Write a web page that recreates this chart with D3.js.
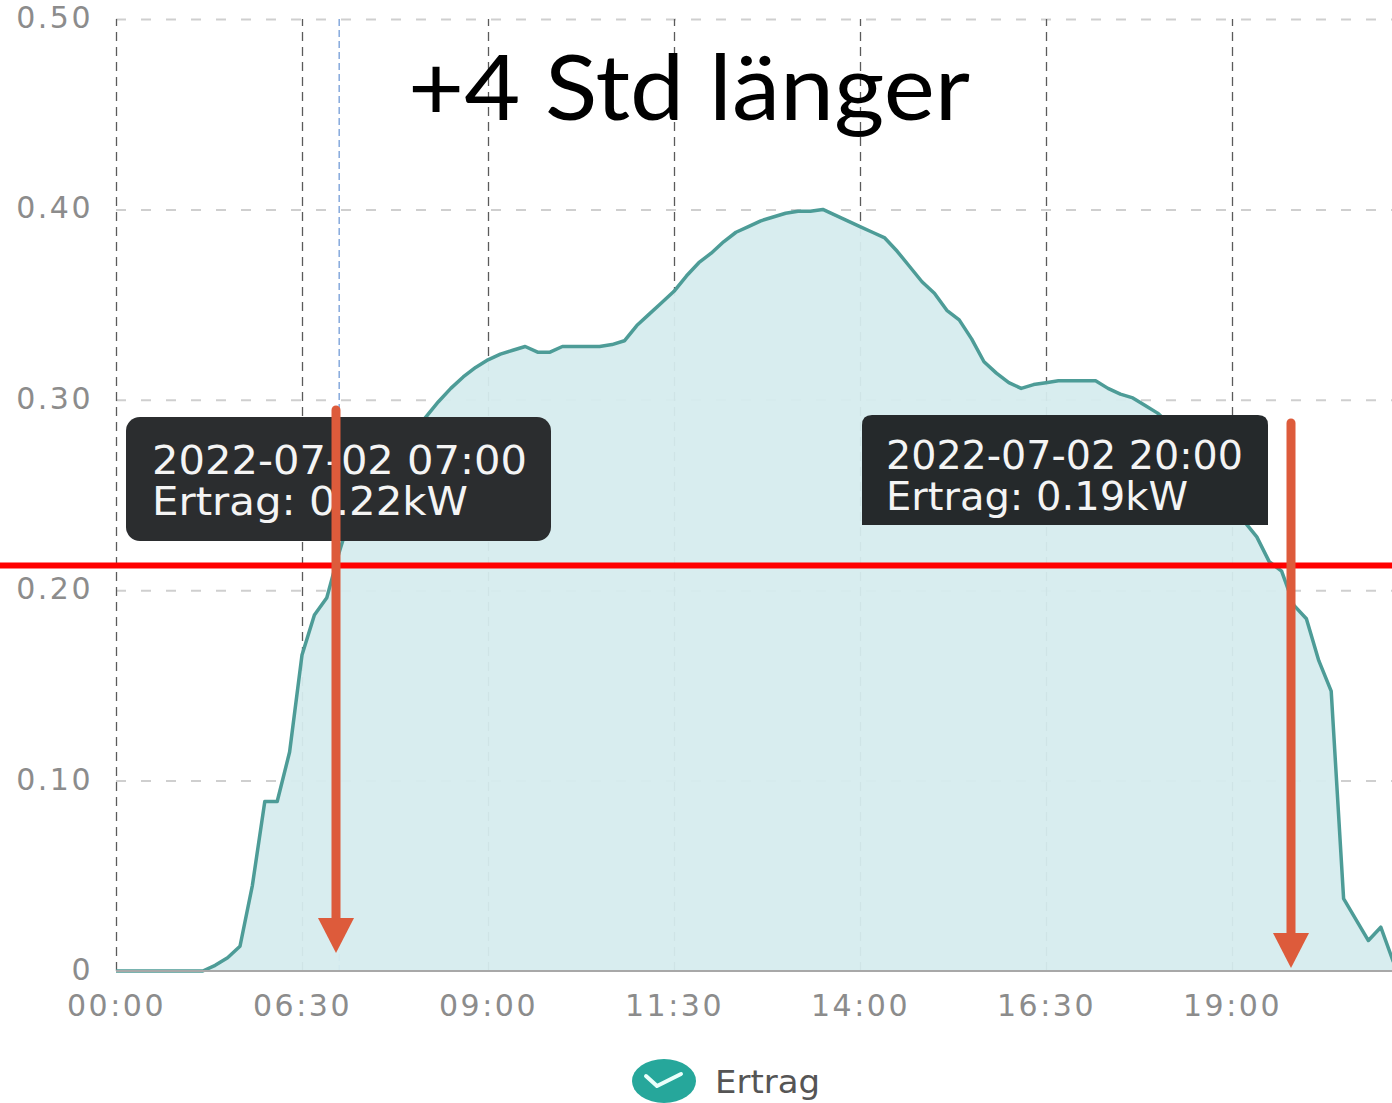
<!DOCTYPE html>
<html>
<head>
<meta charset="utf-8">
<script src="https://cdn.jsdelivr.net/npm/d3@7"></script>
<style>
  html, body { margin: 0; padding: 0; background: #fff; }
  svg { display: block; }
</style>
</head>
<body>
<svg id="chart" width="1392" height="1103"></svg>
<script>
// ---------------- DATA ----------------
// category axis: first point 00:00, then 10‑minute steps from 04:10
const categories = ["00:00"];
for (let m = 4 * 60 + 10; m <= 21 * 60 + 30; m += 10) {
  categories.push(String(Math.floor(m / 60)).padStart(2, "0") + ":" + String(m % 60).padStart(2, "0"));
}
// Ertrag (kW) per category
const ertrag = [
  0, 0, 0, 0, 0, 0, 0, 0, 0.003, 0.007,
  0.013, 0.045, 0.089, 0.089, 0.115, 0.166, 0.187, 0.196, 0.22, 0.241,
  0.249, 0.257, 0.266, 0.274, 0.283, 0.291, 0.299, 0.306, 0.312, 0.317,
  0.321, 0.324, 0.326, 0.328, 0.325, 0.325, 0.328, 0.328, 0.328, 0.328,
  0.329, 0.331, 0.339, 0.345, 0.351, 0.357, 0.365, 0.372, 0.377, 0.383,
  0.388, 0.391, 0.394, 0.396, 0.398, 0.399, 0.399, 0.400, 0.397, 0.394,
  0.391, 0.388, 0.385, 0.378, 0.370, 0.362, 0.356, 0.347, 0.342, 0.332,
  0.320, 0.314, 0.309, 0.306, 0.308, 0.309, 0.310, 0.310, 0.310, 0.310,
  0.306, 0.303, 0.301, 0.297, 0.293, 0.287, 0.280, 0.272, 0.265, 0.256,
  0.247, 0.236, 0.228, 0.215, 0.21, 0.192, 0.185, 0.163, 0.147, 0.038,
  0.027, 0.016, 0.023, 0.005, 0
];
const xTickLabels = ["00:00", "06:30", "09:00", "11:30", "14:00", "16:30", "19:00"];
const yTickValues = [0, 0.1, 0.2, 0.3, 0.4, 0.5];
const tooltipTimes = ["07:00", "20:00"];
const tooltipDates = ["2022-07-02 07:00", "2022-07-02 20:00"];
const tooltipValues = [0.22, 0.19];
const seriesName = "Ertrag";
const titleText = "+4 Std länger";
const thresholdValue = 0.213;

// ---------------- CHART ----------------
const svg = d3.select("#chart");
const x0 = 116, step = 12.4;
const x = d3.scalePoint().domain(categories).range([x0, x0 + step * (categories.length - 1)]);
const y = d3.scaleLinear().domain([0, 0.5]).range([971, 19]);
const plotRight = 1392;

// horizontal grid
const hgrid = d3.axisLeft(y).tickValues(yTickValues.filter(v => v > 0))
  .tickSize(-(plotRight - x0)).tickFormat("");
svg.append("g").attr("transform", `translate(${x0},0)`).call(hgrid)
  .call(g => g.select(".domain").remove())
  .selectAll("line").attr("stroke", "#cfcfcf").attr("stroke-width", 2)
  .attr("stroke-dasharray", "10,15");

// vertical grid
const vgrid = d3.axisBottom(x).tickValues(xTickLabels).tickSize(-(971 - 19)).tickFormat("");
svg.append("g").attr("transform", "translate(0,971)").call(vgrid)
  .call(g => g.select(".domain").remove())
  .selectAll("line").attr("stroke", "#5a5a5a").attr("stroke-width", 1.3)
  .attr("stroke-dasharray", "9,6");

// cursor line (tooltip)
svg.append("line")
  .attr("x1", x(tooltipTimes[0])).attr("x2", x(tooltipTimes[0]))
  .attr("y1", y(0.5)).attr("y2", y(0))
  .attr("stroke", "#86a9dc").attr("stroke-width", 1.5).attr("stroke-dasharray", "7,4");

// area + line
svg.append("clipPath").attr("id", "clip").append("rect")
  .attr("x", x0).attr("y", 0).attr("width", plotRight - x0).attr("height", 975);
const area = d3.area().x((d, i) => x(categories[i])).y0(y(0)).y1(d => y(d));
const line = d3.line().x((d, i) => x(categories[i])).y(d => y(d));
svg.append("path").datum(ertrag).attr("clip-path", "url(#clip)")
  .attr("d", area).attr("fill", "#d6ecee").attr("fill-opacity", 0.95);
svg.append("path").datum(ertrag).attr("clip-path", "url(#clip)")
  .attr("d", line).attr("fill", "none").attr("stroke", "#4d9c97").attr("stroke-width", 3.5)
  .attr("stroke-linejoin", "round");

// axis baseline
svg.append("line").attr("x1", x0).attr("x2", plotRight).attr("y1", y(0)).attr("y2", y(0))
  .attr("stroke", "#a8a8a8").attr("stroke-width", 2);

// y axis labels
const yAxis = d3.axisLeft(y).tickValues(yTickValues).tickSize(0).tickPadding(0)
  .tickFormat(d => d === 0 ? "0" : d3.format(".2f")(d));
svg.append("g").attr("transform", "translate(93,0)").call(yAxis)
  .call(g => g.select(".domain").remove())
  .selectAll("text").attr("font-family", "DejaVu Sans").attr("font-size", 30)
  .attr("fill", "#8c8c8c").attr("letter-spacing", 2.5).attr("dy", "0.28em");

// x axis labels
const xAxis = d3.axisBottom(x).tickValues(xTickLabels).tickSize(0).tickPadding(0);
svg.append("g").attr("transform", "translate(0,995)").call(xAxis)
  .call(g => g.select(".domain").remove())
  .selectAll("text").attr("font-family", "DejaVu Sans").attr("font-size", 30)
  .attr("fill", "#8c8c8c").attr("letter-spacing", 2.5).attr("dy", "0.71em");

// title
svg.append("text").attr("x", 408).attr("y", 120).text(titleText)
  .attr("font-family", "Lato, 'Open Sans', sans-serif").attr("font-size", 92)
  .attr("fill", "#000").attr("textLength", 562).attr("lengthAdjust", "spacingAndGlyphs");

// tooltips
const tips = [
  { x: 126, y: 417, w: 425, h: 124, rx: 14, tx: 152, l1: 474, l2: 515, tw1: 375, tw2: 316 },
  { x: 862, y: 415, w: 406, h: 110, rx: 10, tx: 886, l1: 469, l2: 510, tw1: 357, tw2: 302 }
];
tips.forEach((t, i) => {
  const g = svg.append("g");
  if (i === 0) {
    g.append("rect").attr("x", t.x).attr("y", t.y).attr("width", t.w).attr("height", t.h)
      .attr("rx", t.rx).attr("fill", "#2b2d2f");
  } else {
    const p = d3.path();
    p.moveTo(t.x, t.y + t.rx);
    p.quadraticCurveTo(t.x, t.y, t.x + t.rx, t.y);
    p.lineTo(t.x + t.w - t.rx, t.y);
    p.quadraticCurveTo(t.x + t.w, t.y, t.x + t.w, t.y + t.rx);
    p.lineTo(t.x + t.w, t.y + t.h);
    p.lineTo(t.x, t.y + t.h);
    p.closePath();
    g.append("path").attr("d", p.toString()).attr("fill", "#25292b");
  }
  g.append("text").attr("x", t.tx).attr("y", t.l1).text(tooltipDates[i])
    .attr("font-family", "DejaVu Sans").attr("font-size", 39).attr("fill", "#f4f4f4")
    .attr("textLength", t.tw1).attr("lengthAdjust", "spacingAndGlyphs");
  g.append("text").attr("x", t.tx).attr("y", t.l2)
    .text(seriesName + ": " + tooltipValues[i].toFixed(2) + "kW")
    .attr("font-family", "DejaVu Sans").attr("font-size", 39).attr("fill", "#f4f4f4")
    .attr("textLength", t.tw2).attr("lengthAdjust", "spacingAndGlyphs");
});

// red threshold line
svg.append("line").attr("x1", 0).attr("x2", 1392)
  .attr("y1", y(thresholdValue)).attr("y2", y(thresholdValue))
  .attr("stroke", "#ff0000").attr("stroke-width", 6);

// orange arrows
const arrows = [
  { x: 336, top: 410, tip: 953 },
  { x: 1291, top: 423, tip: 968 }
];
arrows.forEach(a => {
  svg.append("line").attr("x1", a.x).attr("x2", a.x).attr("y1", a.top).attr("y2", a.tip - 30)
    .attr("stroke", "#dd5b3b").attr("stroke-width", 9).attr("stroke-linecap", "round");
  svg.append("path")
    .attr("d", `M${a.x - 18},${a.tip - 35} L${a.x + 18},${a.tip - 35} L${a.x},${a.tip} Z`)
    .attr("fill", "#dd5b3b");
});

// legend
const lg = svg.append("g");
lg.append("ellipse").attr("cx", 664).attr("cy", 1081).attr("rx", 32).attr("ry", 22)
  .attr("fill", "#26a79b");
lg.append("path").attr("d", "M646,1076 L657,1086 L681,1074").attr("fill", "none")
  .attr("stroke", "#eafffb").attr("stroke-width", 4).attr("stroke-linecap", "round")
  .attr("stroke-linejoin", "round");
lg.append("text").attr("x", 715).attr("y", 1093).text(seriesName)
  .attr("font-family", "DejaVu Sans").attr("font-size", 32).attr("fill", "#555")
  .attr("textLength", 105).attr("lengthAdjust", "spacingAndGlyphs");
</script>
</body>
</html>
